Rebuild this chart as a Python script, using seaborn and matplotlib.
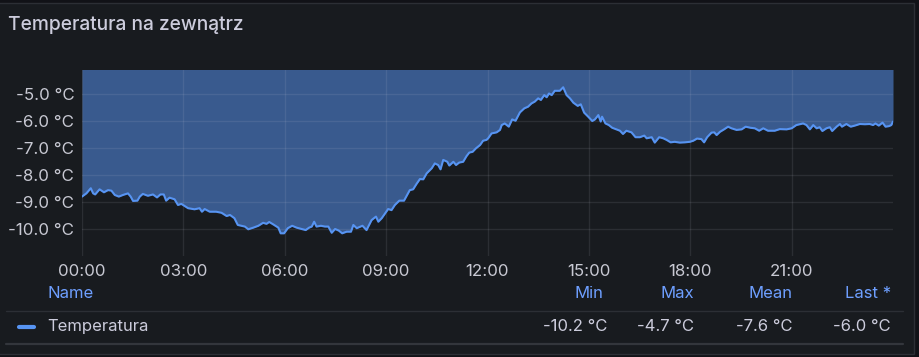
import matplotlib
matplotlib.use("Agg")
import matplotlib.pyplot as plt
import seaborn as sns
import pandas as pd
from matplotlib.patches import Rectangle
from matplotlib.lines import Line2D

# ---------------- data ----------------
title = "Temperatura na zewnątrz"
series_name = "Temperatura"

hours = [
    0.00, 0.13, 0.26, 0.33, 0.39, 0.52, 0.65, 0.77, 0.87, 0.97, 1.09, 1.21, 1.36, 1.44, 1.51, 1.64,
    1.71, 1.80, 1.95, 2.10, 2.22, 2.32, 2.42, 2.49, 2.59, 2.74, 2.84, 2.94, 3.04, 3.14, 3.33, 3.48,
    3.55, 3.63, 3.78, 3.97, 4.13, 4.28, 4.38, 4.51, 4.61, 4.72, 4.82, 4.92, 5.07, 5.22, 5.36, 5.46,
    5.54, 5.66, 5.81, 5.88, 5.98, 6.09, 6.22, 6.35, 6.50, 6.62, 6.72, 6.80, 6.87, 6.94, 7.07, 7.19,
    7.29, 7.39, 7.49, 7.60, 7.70, 7.83, 7.96, 8.03, 8.13, 8.30, 8.42, 8.57, 8.70, 8.77, 8.87, 8.96,
    9.06, 9.16, 9.26, 9.39, 9.53, 9.62, 9.70, 9.80, 9.90, 10.00, 10.10, 10.20, 10.35, 10.44, 10.54,
    10.61, 10.69, 10.81, 10.87, 10.99, 11.07, 11.16, 11.28, 11.38, 11.46, 11.56, 11.66, 11.78, 11.87,
    11.97, 12.02, 12.12, 12.27, 12.37, 12.42, 12.51, 12.63, 12.73, 12.83, 12.96, 13.09, 13.20, 13.30,
    13.40, 13.50, 13.58, 13.68, 13.75, 13.82, 13.90, 13.99, 14.14, 14.24, 14.34, 14.44, 14.54, 14.67,
    14.76, 14.86, 14.98, 15.10, 15.18, 15.28, 15.35, 15.39, 15.49, 15.59, 15.69, 15.82, 15.92, 16.01,
    16.11, 16.26, 16.38, 16.51, 16.64, 16.71, 16.86, 16.95, 17.08, 17.20, 17.30, 17.42, 17.54, 17.69,
    17.84, 17.99, 18.09, 18.20, 18.33, 18.41, 18.50, 18.63, 18.71, 18.78, 18.88, 19.00, 19.12, 19.22,
    19.37, 19.52, 19.64, 19.78, 19.91, 20.04, 20.16, 20.30, 20.50, 20.65, 20.85, 21.00, 21.14, 21.34,
    21.44, 21.54, 21.64, 21.74, 21.83, 21.91, 22.03, 22.13, 22.20, 22.33, 22.43, 22.49, 22.62, 22.75,
    22.87, 23.02, 23.17, 23.31, 23.41, 23.48, 23.58, 23.69, 23.78, 23.88, 23.95, 24.00,
]
temps = [
    -8.80, -8.68, -8.49, -8.68, -8.72, -8.53, -8.64, -8.56, -8.58, -8.74, -8.80, -8.74, -8.68, -8.80, -8.96, -8.95,
    -8.80, -8.70, -8.77, -8.72, -8.83, -8.72, -8.72, -8.95, -8.84, -8.90, -9.11, -9.07, -9.15, -9.23, -9.27, -9.23,
    -9.36, -9.26, -9.36, -9.36, -9.40, -9.52, -9.48, -9.60, -9.85, -9.88, -9.91, -10.01, -9.95, -9.88, -9.77, -9.81,
    -9.74, -9.83, -9.95, -10.16, -10.16, -9.97, -9.88, -9.95, -10.00, -10.04, -9.95, -9.91, -9.73, -9.91, -9.88, -9.91,
    -9.91, -10.14, -10.00, -10.06, -10.16, -10.10, -10.10, -9.85, -9.97, -9.88, -10.04, -9.67, -9.54, -9.73, -9.60, -9.44,
    -9.26, -9.30, -9.11, -8.95, -8.95, -8.74, -8.56, -8.53, -8.33, -8.15, -8.16, -7.94, -7.75, -7.57, -7.63,
    -7.79, -7.44, -7.51, -7.65, -7.51, -7.63, -7.54, -7.51, -7.30, -7.17, -7.14, -7.01, -6.89, -6.73,
    -6.70, -6.64, -6.46, -6.42, -6.33, -6.15, -6.09, -6.21, -5.94, -5.99, -5.68, -5.53, -5.47, -5.35,
    -5.28, -5.16, -5.22, -5.04, -5.12, -4.98, -5.04, -4.88, -4.88, -4.75, -5.04, -5.16, -5.32, -5.44,
    -5.38, -5.69, -5.84, -6.00, -5.94, -5.78, -6.02, -5.84, -6.09, -6.15, -6.25, -6.31, -6.36, -6.48,
    -6.36, -6.42, -6.60, -6.60, -6.54, -6.64, -6.60, -6.80, -6.60, -6.64, -6.70, -6.79, -6.77, -6.80,
    -6.79, -6.77, -6.73, -6.65, -6.67, -6.79, -6.60, -6.43, -6.42, -6.52, -6.40, -6.31, -6.21, -6.27,
    -6.33, -6.31, -6.21, -6.25, -6.27, -6.36, -6.27, -6.36, -6.36, -6.30, -6.31, -6.27, -6.15, -6.09,
    -6.15, -6.31, -6.15, -6.27, -6.23, -6.37, -6.27, -6.23, -6.37, -6.21, -6.11, -6.21, -6.11, -6.21,
    -6.17, -6.11, -6.12, -6.11, -6.15, -6.09, -6.17, -6.06, -6.21, -6.19, -6.15, -6.02,
]

x_ticks = [0, 3, 6, 9, 12, 15, 18, 21]
x_tick_labels = ["00:00", "03:00", "06:00", "09:00", "12:00", "15:00", "18:00", "21:00"]
y_ticks = [-10, -9, -8, -7, -6, -5]
y_tick_labels = ["-10.0 °C", "-9.0 °C", "-8.0 °C", "-7.0 °C", "-6.0 °C", "-5.0 °C"]

stat_names = ["Min", "Max", "Mean", "Last *"]
stat_values = ["-10.2 °C", "-4.7 °C", "-7.6 °C", "-6.0 °C"]

# ---------------- styling ----------------
sns.set_theme(style="dark")
plt.rcParams['font.family'] = ['Inter', 'DejaVu Sans']

BG_PAGE = "#111217"
BG_PANEL = "#181b1f"
TEXT = "#ccccdc"
BLUE = "#5794f2"
HEAD = "#6e9fff"

W, H = 919, 357
fig = plt.figure(figsize=(W / 100, H / 100), dpi=100)
fig.patch.set_facecolor(BG_PAGE)


def fx(px):
    return px / W


def fy(py):
    return 1 - py / H


# panel background (drawn beneath everything)
fig.patches.append(Rectangle((fx(-10), fy(354)), fx(914 + 10), (354 - 3) / H,
                             transform=fig.transFigure, facecolor=BG_PANEL,
                             edgecolor="#2c2f35", lw=1.0, zorder=-10))

fig.text(fx(8), fy(25), title, color=TEXT, fontsize=13.8, fontweight="medium",
         ha="left", va="center")

ax = fig.add_axes([fx(82), fy(256), (893 - 82) / W, (256 - 70) / H])
ax.set_zorder(1)
ax.patch.set_alpha(0.0)

df = pd.DataFrame({"hour": hours, "temp": temps})
ax.fill_between(df["hour"], df["temp"], 0, color=BLUE, alpha=0.53, lw=0, zorder=1)
sns.lineplot(data=df, x="hour", y="temp", ax=ax, color=BLUE, lw=1.5,
             estimator=None, sort=False, zorder=3)

ax.set_xlim(0, 24)
ax.set_ylim(-11.0, -4.11)
ax.set_xticks(x_ticks)
ax.set_xticklabels(x_tick_labels)
ax.set_yticks(y_ticks)
ax.set_yticklabels(y_tick_labels)
ax.set_xlabel("")
ax.set_ylabel("")
ax.set_axisbelow(False)
ax.grid(True, color=TEXT, alpha=0.11, lw=1.0, zorder=2)
for s in ax.spines.values():
    s.set_visible(False)
ax.tick_params(axis="both", length=0, colors=TEXT, labelsize=12.2)
ax.tick_params(axis="x", pad=6)
ax.tick_params(axis="y", pad=5.5)
for lab in ax.get_xticklabels() + ax.get_yticklabels():
    lab.set_color("#c8c9d3")

# ---------------- legend table ----------------
fig.text(fx(47.5), fy(294), "Name", color=HEAD, fontsize=12, ha="left", va="center")
head_x = [603, 694, 792, 891]
val_x = [607.5, 694, 792, 891]
for name, x in zip(stat_names, head_x):
    fig.text(fx(x), fy(294), name, color=HEAD, fontsize=12, ha="right", va="center")
for val, x in zip(stat_values, val_x):
    fig.text(fx(x), fy(326.5), val, color=TEXT, fontsize=12, ha="right", va="center")

fig.lines.append(Line2D([fx(6), fx(903)], [fy(311), fy(311)], transform=fig.transFigure,
                        color="#2c2f35", lw=1.0))
fig.lines.append(Line2D([fx(6), fx(903)], [fy(344), fy(344)], transform=fig.transFigure,
                        color="#33363c", lw=1.6))
fig.lines.append(Line2D([fx(19), fx(33.5)], [fy(327), fy(327)], transform=fig.transFigure,
                        color=BLUE, lw=3.0, solid_capstyle="round"))
fig.text(fx(47.5), fy(326.5), series_name, color=TEXT, fontsize=12, ha="left", va="center")

fig.savefig("out.png", dpi=100, facecolor=fig.get_facecolor())
